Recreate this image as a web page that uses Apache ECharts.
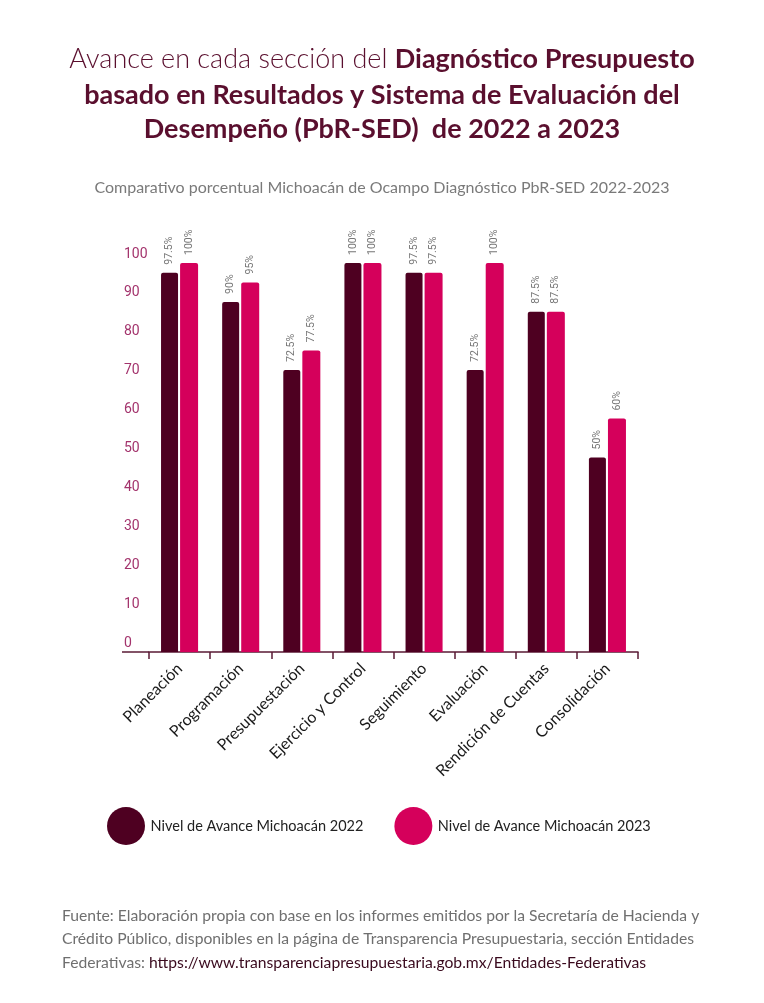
<!DOCTYPE html>
<html>
<head>
<meta charset="utf-8">
<script src="https://cdn.jsdelivr.net/npm/echarts@6/dist/echarts.min.js"></script>
<style>
html,body{margin:0;padding:0;background:#fff;}
#chart{width:764px;height:1003px;}
</style>
</head>
<body>
<div id="chart"></div>
<script>
var categories = ['Planeación','Programación','Presupuestación','Ejercicio y Control','Seguimiento','Evaluación','Rendición de Cuentas','Consolidación'];
var values2022 = [97.5, 90, 72.5, 100, 97.5, 72.5, 87.5, 50];
var values2023 = [100, 95, 77.5, 100, 97.5, 100, 87.5, 60];
var yTicks = [0,10,20,30,40,50,60,70,80,90,100];
var seriesNames = ['Nivel de Avance Michoacán 2022','Nivel de Avance Michoacán 2023'];

var DARK = '#4e0021';
var PINK = '#d5005b';
var FONT = 'Lato';
var TCOL = '#5a0f2e';
var TSIZE = 27;

var chart = echarts.init(document.getElementById('chart'));
var labelOpt = {
  show: true,
  position: 'top',
  rotate: 90,
  align: 'left',
  verticalAlign: 'middle',
  distance: 8,
  fontSize: 10.5,
  fontFamily: 'Roboto',
  color: '#777',
  formatter: '{c}%'
};
var richT = {
  l: {fontFamily: FONT, fontSize: TSIZE, fontWeight: 300, color: TCOL},
  b: {fontFamily: FONT, fontSize: TSIZE, fontWeight: 'bold', color: TCOL}
};
chart.setOption({
  backgroundColor: '#fff',
  animation: false,
  title: [
    {left: 'center', top: 41, text: '{l|Avance en cada sección del }{b|Diagnóstico Presupuesto}', textStyle: {rich: richT}},
    {left: 'center', top: 77, text: '{b|basado en Resultados y Sistema de Evaluación del}', textStyle: {rich: richT}},
    {left: 'center', top: 111, text: '{b|Desempeño (PbR-SED)  de 2022 a 2023}', textStyle: {rich: richT}},
    {
      left: 'center',
      top: 175,
      text: 'Comparativo porcentual Michoacán de Ocampo Diagnóstico PbR-SED 2022-2023',
      textStyle: {fontFamily: FONT, fontSize: 16, fontWeight: 'normal', color: '#7a7a7a'}
    },
    {
      left: 57,
      top: 899,
      text: '{g|Fuente: Elaboración propia con base en los informes emitidos por la Secretaría de Hacienda y}\n{g|Crédito Público, disponibles en la página de Transparencia Presupuestaria, sección Entidades}\n{g|Federativas: }{u|https://www.transparenciapresupuestaria.gob.mx/Entidades-Federativas}',
      textStyle: {
        fontWeight: 'normal',
        rich: {
          g: {fontFamily: FONT, fontSize: 15.7, fontWeight: 'normal', color: '#6f6f6f', lineHeight: 23.5},
          u: {fontFamily: FONT, fontSize: 15.7, fontWeight: 'normal', color: '#3a0a1e', lineHeight: 23.5}
        }
      }
    }
  ],
  legend: {
    left: 102,
    top: 802,
    itemWidth: 39,
    itemHeight: 38,
    itemGap: 31,
    icon: 'circle',
    data: seriesNames,
    textStyle: {fontFamily: FONT, fontSize: 14.5, color: '#222'}
  },
  grid: {left: 149, right: 126, top: 263, bottom: 351, containLabel: false},
  xAxis: {
    type: 'category',
    data: categories,
    axisLine: {show: true, lineStyle: {color: '#5a1a35', width: 1.5}},
    axisTick: {show: true, length: 7, lineStyle: {color: '#5a1a35', width: 1.5}},
    axisLabel: {rotate: 45, margin: 14, fontFamily: FONT, fontSize: 16, color: '#1a1a1a', interval: 0}
  },
  yAxis: {
    type: 'value',
    min: yTicks[0],
    max: yTicks[yTicks.length - 1],
    interval: 10,
    axisLine: {show: false},
    axisTick: {show: false},
    splitLine: {show: false},
    axisLabel: {
      align: 'left',
      margin: 25,
      verticalAlign: 'bottom',
      padding: [0, 0, 2, 0],
      fontFamily: 'Roboto',
      fontSize: 14,
      color: '#a3336c'
    }
  },
  graphic: [
    {type: 'line', shape: {x1: 122, y1: 652, x2: 149, y2: 652}, style: {stroke: '#5a1a35', lineWidth: 1.5}}
  ],
  series: [
    {
      name: seriesNames[0],
      type: 'bar',
      data: values2022,
      barWidth: 17,
      barGap: '12%',
      itemStyle: {color: DARK, borderRadius: [2, 2, 0, 0]},
      label: labelOpt
    },
    {
      name: seriesNames[1],
      type: 'bar',
      data: values2023,
      barWidth: 18,
      itemStyle: {color: PINK, borderRadius: [2, 2, 0, 0]},
      label: labelOpt
    }
  ]
});
</script>
</body>
</html>
